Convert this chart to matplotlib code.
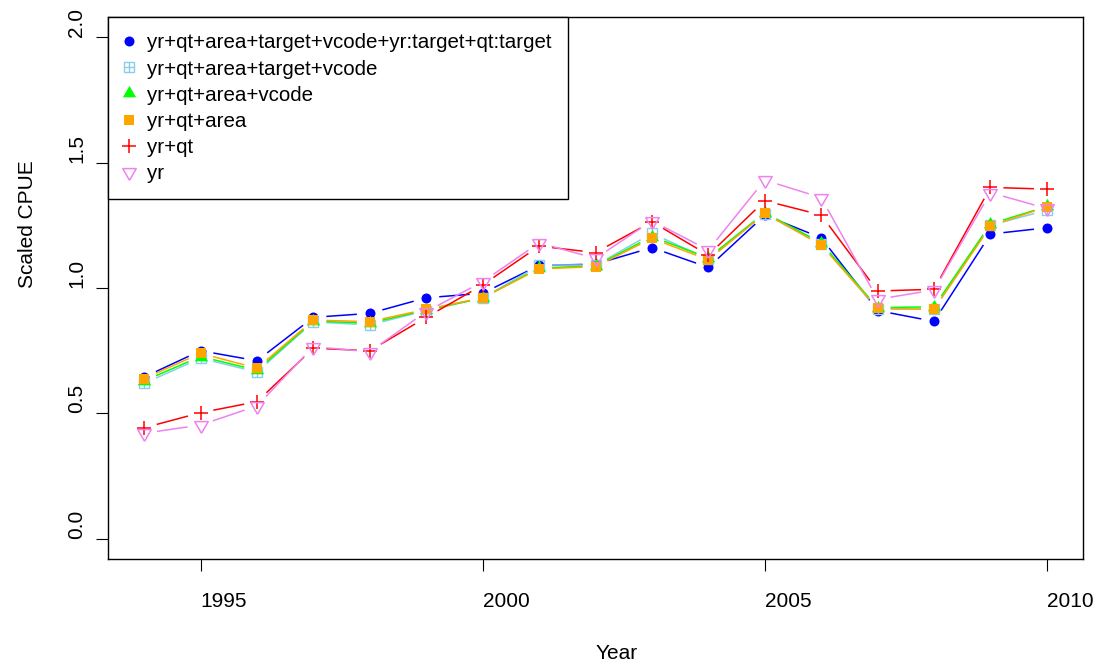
import numpy as np
import matplotlib
matplotlib.use('Agg')
import matplotlib.pyplot as plt
from matplotlib.lines import Line2D

plt.rcParams['font.family'] = ['Liberation Sans', 'DejaVu Sans']
plt.rcParams['font.size'] = 15

# --- data ---
years = [1994, 1995, 1996, 1997, 1998, 1999, 2000, 2001, 2002,
         2003, 2004, 2005, 2006, 2007, 2008, 2009, 2010]

full_model = [0.645, 0.750, 0.710, 0.883, 0.899, 0.961, 0.979, 1.090, 1.095,
              1.161, 1.082, 1.290, 1.200, 0.910, 0.867, 1.215, 1.240]
target_vcode = [0.620, 0.720, 0.665, 0.865, 0.853, 0.910, 0.960, 1.090, 1.090,
                1.218, 1.115, 1.295, 1.175, 0.915, 0.917, 1.250, 1.310]
area_vcode = [0.630, 0.727, 0.672, 0.868, 0.860, 0.912, 0.960, 1.080, 1.088,
              1.205, 1.120, 1.300, 1.180, 0.922, 0.925, 1.255, 1.325]
area_only = [0.639, 0.740, 0.680, 0.872, 0.866, 0.915, 0.961, 1.076, 1.085,
             1.198, 1.112, 1.298, 1.171, 0.919, 0.915, 1.247, 1.324]
yr_qt = [0.443, 0.503, 0.547, 0.760, 0.750, 0.883, 1.012, 1.167, 1.141,
         1.264, 1.131, 1.348, 1.291, 0.988, 0.995, 1.401, 1.394]
yr_only = [0.421, 0.454, 0.530, 0.766, 0.746, 0.906, 1.025, 1.180, 1.118,
           1.268, 1.151, 1.430, 1.360, 0.955, 0.992, 1.380, 1.317]

labels = ['yr+qt+area+target+vcode+yr:target+qt:target',
          'yr+qt+area+target+vcode',
          'yr+qt+area+vcode',
          'yr+qt+area',
          'yr+qt',
          'yr']

# R-style equilateral triangles (centred on centroid)
tri_up = [(0, 1), (-0.866, -0.5), (0.866, -0.5), (0, 1)]
tri_dn = [(0, -1), (-0.866, 0.5), (0.866, 0.5), (0, -1)]

fig = plt.figure(figsize=(11, 6.68), dpi=100)
ax = fig.add_axes([108/1100, 1-559/668, 975/1100, 542/668])
ax.set_xlim(1993.36, 2010.64)
ax.set_ylim(-0.08, 2.08)

LW = 1.1
GAP = 13  # px, like R type="b"


def gapped(x, y, color, z):
    pts = ax.transData.transform(np.column_stack([x, y]))
    inv = ax.transData.inverted()
    for p0, p1 in zip(pts[:-1], pts[1:]):
        d = p1 - p0
        L = np.hypot(d[0], d[1])
        if L <= 2*GAP:
            continue
        u = d / L
        seg = inv.transform(np.vstack([p0 + u*GAP, p1 - u*GAP]))
        ax.plot(seg[:, 0], seg[:, 1], color=color, lw=LW, zorder=z,
                solid_capstyle='butt')


series = [
    (full_model, 'blue', [dict(marker='o', ms=7.2, mfc='blue', mec='blue', mew=0)]),
    (target_vcode, 'skyblue', [dict(marker='s', ms=7.2, mfc='none', mec='skyblue', mew=1.0),
                               dict(marker='+', ms=7.2, mec='skyblue', mew=1.0)]),
    (area_vcode, '#00FF00', [dict(marker=tri_up, ms=11, mfc='#00FF00', mec='#00FF00', mew=0)]),
    (area_only, 'orange', [dict(marker='s', ms=7.5, mfc='orange', mec='orange', mew=0)]),
    (yr_qt, 'red', [dict(marker='+', ms=10.2, mec='red', mew=LW)]),
    (yr_only, 'violet', [dict(marker=tri_dn, ms=11.2, mfc='none', mec='violet', mew=LW)]),
]

handles = []
for i, (vals, col, mks) in enumerate(series):
    z = 2 + i
    gapped(years, vals, col, z)
    hs = []
    for mk in mks:
        ax.plot(years, vals, ls='none', zorder=z, **mk)
        hs.append(Line2D([], [], ls='none', **mk))
    handles.append(tuple(hs) if len(hs) > 1 else hs[0])

leg = ax.legend(handles, labels, loc='upper left', bbox_to_anchor=(0, 1),
                borderaxespad=0, fancybox=False, framealpha=1, edgecolor='black',
                numpoints=1, handlelength=0.47, handletextpad=0.63,
                borderpad=0.8, labelspacing=0.345, fontsize=14.8)
leg.get_frame().set_linewidth(1.0)
leg.set_zorder(20)

ax.set_xticks([1995, 2000, 2005, 2010])
ax.set_yticks([0.0, 0.5, 1.0, 1.5, 2.0])
ax.set_yticklabels(['0.0', '0.5', '1.0', '1.5', '2.0'])
ax.tick_params(axis='both', direction='out', length=8.6, width=0.8, labelsize=15)
ax.tick_params(axis='x', pad=15.5)
ax.tick_params(axis='y', pad=7, labelrotation=90)
for lab in ax.get_xticklabels():
    lab.set_ha('left')
for lab in ax.get_yticklabels():
    lab.set_va('bottom')

for s in ax.spines.values():
    s.set_linewidth(1.0)
    s.set_color('black')

ax.set_xlabel('Year', fontsize=15, ha='left', va='baseline')
ax.xaxis.set_label_coords(0.5, (559-659)/542)
ax.set_ylabel('Scaled CPUE', fontsize=15, ha='left', va='bottom')
ax.yaxis.set_label_coords((37.4-108)/975, 0.5)

fig.savefig('out.png', dpi=100)
